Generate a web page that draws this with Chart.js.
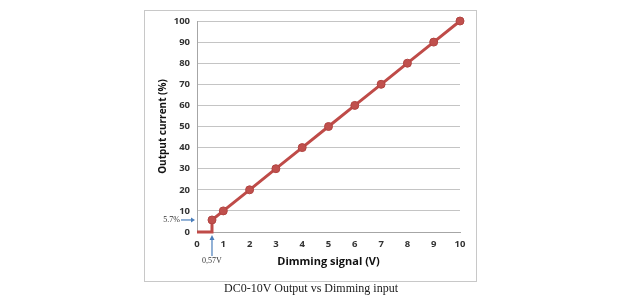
<!DOCTYPE html>
<html>
<head>
<meta charset="utf-8">
<script src="https://cdn.jsdelivr.net/npm/chart.js@4/dist/chart.umd.min.js"></script>
<style>
  html, body { margin: 0; padding: 0; background: #fff; }
  canvas { display: block; }
</style>
</head>
<body>
<canvas id="dimChart" width="640" height="300"></canvas>
<script>
// dados
const signalV = [0, 0.57, 0.57, 1, 2, 3, 4, 5, 6, 7, 8, 9, 10];
const outputPct = [0, 0, 5.7, 10, 20, 30, 40, 50, 60, 70, 80, 90, 100];
const showMarker = [false, false, true, true, true, true, true, true, true, true, true, true, true];

const thresholdV = 0.57;
const thresholdPct = 5.7;
const thresholdVLabel = '0,57V';
const thresholdPctLabel = '5.7%';
const captionText = 'DC0-10V Output vs Dimming input';

const lineColor = '#bf4b48';
const arrowColor = '#4a7ebb';

// moldura + legenda de baixo
const framePlugin = {
    id: 'frame',
    beforeDraw(chart) {
        const ctx = chart.ctx;
        ctx.save();
        ctx.fillStyle = '#fff';
        ctx.fillRect(0, 0, chart.width, chart.height);
        ctx.strokeStyle = '#c8c8c8';
        ctx.lineWidth = 1;
        ctx.strokeRect(144.5, 10.5, 332, 271);
        ctx.restore();
    },
    afterDraw(chart) {
        const ctx = chart.ctx;
        ctx.save();
        ctx.fillStyle = '#1a1a1a';
        ctx.font = '12px "Liberation Serif", "Times New Roman", serif';
        ctx.textAlign = 'center';
        ctx.textBaseline = 'middle';
        ctx.fillText(captionText, 311, 289);
        ctx.restore();
    }
};

// setas do limiar 0,57V / 5.7%
const thresholdPlugin = {
    id: 'threshold',
    afterDatasetsDraw(chart) {
        const ctx = chart.ctx;
        const xs = chart.scales.x;
        const ys = chart.scales.y;
        const px = xs.getPixelForValue(thresholdV);
        const py = ys.getPixelForValue(thresholdPct);
        const left = chart.chartArea.left;
        const bottom = chart.chartArea.bottom;

        ctx.save();
        ctx.strokeStyle = arrowColor;
        ctx.fillStyle = arrowColor;
        ctx.lineWidth = 1.2;

        // seta horizontal
        ctx.beginPath();
        ctx.moveTo(left - 16, py);
        ctx.lineTo(left - 4, py);
        ctx.stroke();
        ctx.beginPath();
        ctx.moveTo(left - 2, py);
        ctx.lineTo(left - 6, py - 2.5);
        ctx.lineTo(left - 6, py + 2.5);
        ctx.closePath();
        ctx.fill();

        // seta vertical
        ctx.beginPath();
        ctx.moveTo(px, bottom + 24);
        ctx.lineTo(px, bottom + 6);
        ctx.stroke();
        ctx.beginPath();
        ctx.moveTo(px, bottom + 3);
        ctx.lineTo(px - 2.5, bottom + 8);
        ctx.lineTo(px + 2.5, bottom + 8);
        ctx.closePath();
        ctx.fill();

        ctx.fillStyle = '#333';
        ctx.font = '8px "Liberation Serif", "Times New Roman", serif';
        ctx.textBaseline = 'middle';
        ctx.textAlign = 'right';
        ctx.fillText(thresholdPctLabel, left - 17, py);
        ctx.textAlign = 'center';
        ctx.fillText(thresholdVLabel, px, bottom + 29);
        ctx.restore();
    }
};

const points = signalV.map((v, i) => ({ x: v, y: outputPct[i] }));

new Chart(document.getElementById('dimChart'), {
    type: 'line',
    data: {
        datasets: [{
            label: 'Output current',
            data: points,
            borderColor: lineColor,
            backgroundColor: lineColor,
            borderWidth: 3,
            pointRadius: showMarker.map(m => m ? 4 : 0),
            pointBackgroundColor: '#c0504d',
            pointBorderColor: '#b24542',
            pointBorderWidth: 1,
            tension: 0,
            fill: false,
            clip: false
        }]
    },
    options: {
        responsive: false,
        animation: false,
        layout: {
            padding: { left: 155, right: 180, top: 21, bottom: 28 }
        },
        plugins: {
            legend: { display: false },
            tooltip: { enabled: false }
        },
        scales: {
            x: {
                type: 'linear',
                min: 0,
                max: 10,
                afterFit: (scale) => { scale.height = 40; },
                grid: { display: false, drawTicks: false },
                border: { display: true, color: '#a6a6a6', width: 1 },
                ticks: {
                    stepSize: 1,
                    padding: 7,
                    color: '#333',
                    font: { family: '"Open Sans", sans-serif', size: 9.5, weight: 'bold' }
                },
                title: {
                    display: true,
                    text: 'Dimming signal (V)',
                    color: '#111',
                    padding: { top: 0, bottom: 4 },
                    font: { family: '"Open Sans", sans-serif', size: 11, weight: 'bold' }
                }
            },
            y: {
                min: 0,
                max: 100,
                afterFit: (scale) => { scale.width = 42; },
                grid: { color: '#c4c4c4', drawTicks: false },
                border: { display: true, color: '#a6a6a6', width: 1 },
                ticks: {
                    stepSize: 10,
                    padding: 7,
                    color: '#333',
                    font: { family: '"Open Sans", sans-serif', size: 9.5, weight: 'bold' }
                },
                title: {
                    display: true,
                    text: 'Output current (%)',
                    color: '#111',
                    padding: { top: 2, bottom: 0 },
                    font: { family: '"Open Sans", sans-serif', size: 10, weight: 'bold' }
                }
            }
        }
    },
    plugins: [framePlugin, thresholdPlugin]
});
</script>
</body>
</html>
